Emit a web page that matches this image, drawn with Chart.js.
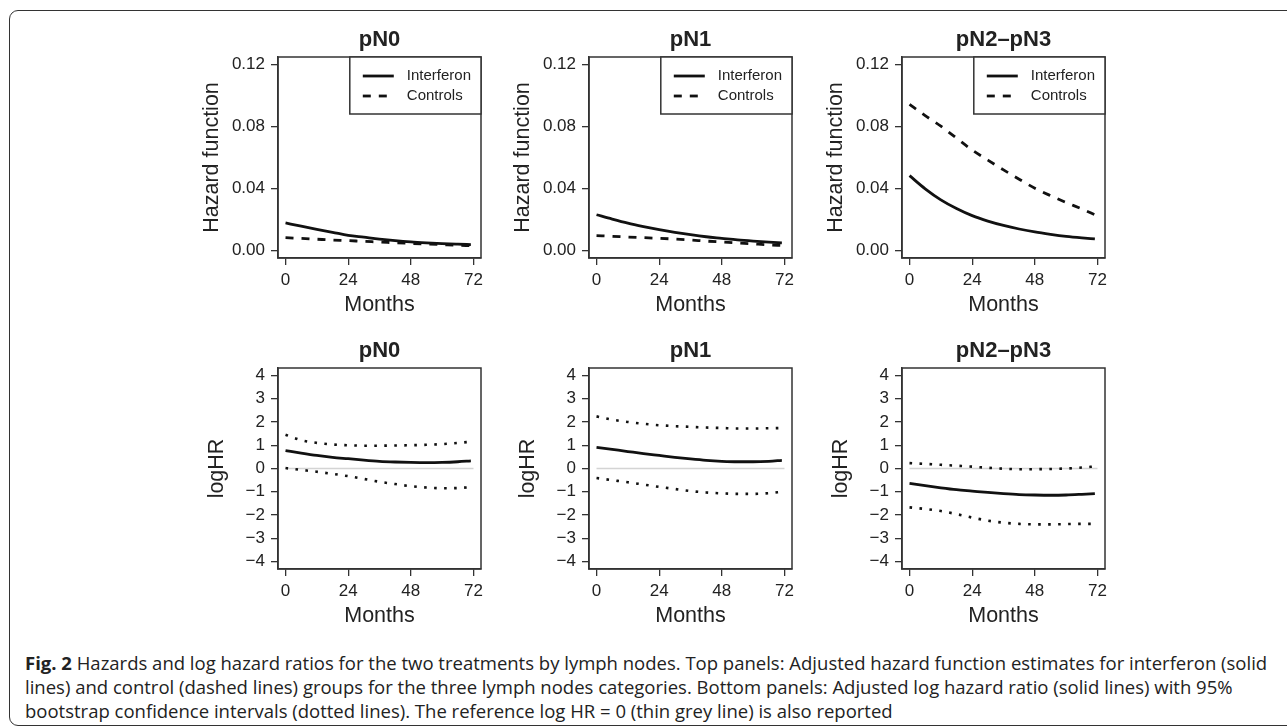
<!DOCTYPE html>
<html>
<head>
<meta charset="utf-8">
<script src="https://cdn.jsdelivr.net/npm/chart.js@4.4.0/dist/chart.umd.min.js"></script>
<style>
  body { margin: 0; background: #fff; width: 1287px; height: 727px; overflow: hidden; position: relative; }
  .frame { position: absolute; left: 9px; top: 10px; width: 1300px; height: 714px;
           border: 1.5px solid #333; border-radius: 9px 0 0 9px; }
  canvas { position: absolute; }
  .caption { position: absolute; left: 25px; top: 651px; font-family: "Open Sans", sans-serif;
             font-size: 18.5px; line-height: 24px; color: #222; white-space: nowrap; }
</style>
</head>
<body>
<div class="frame"></div>
<canvas id="c0" width="308" height="311" style="left:188px;top:7px"></canvas>
<canvas id="c1" width="308" height="311" style="left:499px;top:7px"></canvas>
<canvas id="c2" width="308" height="311" style="left:812px;top:7px"></canvas>
<canvas id="c3" width="308" height="311" style="left:188px;top:318px"></canvas>
<canvas id="c4" width="308" height="311" style="left:499px;top:318px"></canvas>
<canvas id="c5" width="308" height="311" style="left:812px;top:318px"></canvas>
<div class="caption">
<b>Fig. 2</b> Hazards and log hazard ratios for the two treatments by lymph nodes. Top panels: Adjusted hazard function estimates for interferon (solid<br>
lines) and control (dashed lines) groups for the three lymph nodes categories. Bottom panels: Adjusted log hazard ratio (solid lines) with 95%<br>
bootstrap confidence intervals (dotted lines). The reference log HR = 0 (thin grey line) is also reported
</div>
<script>
// months where the curves are read
const months = [0, 6, 12, 18, 24, 30, 36, 42, 48, 54, 60, 66, 71];
const panelTitles = ['pN0', 'pN1', 'pN2\u2013pN3'];
const xTicks = [0, 24, 48, 72];
const hazardTicks = [0, 0.04, 0.08, 0.12];
const logTicks = [-4, -3, -2, -1, 0, 1, 2, 3, 4];

// hazard function, interferon
const hazIfnN0 = [0.0178, 0.0157, 0.0137, 0.0118, 0.0098, 0.0086, 0.0074, 0.0064, 0.0056, 0.0050, 0.0045, 0.0041, 0.0038];
const hazIfnN1 = [0.0231, 0.0203, 0.0177, 0.0155, 0.0135, 0.0117, 0.0102, 0.0089, 0.0079, 0.0069, 0.0061, 0.0054, 0.0049];
const hazIfnN2 = [0.0483, 0.0398, 0.0327, 0.0271, 0.0225, 0.0190, 0.0162, 0.0139, 0.0120, 0.0105, 0.0092, 0.0082, 0.0075];
// hazard function, controls
const hazCtlN0 = [0.0083, 0.0078, 0.0073, 0.0068, 0.0064, 0.0059, 0.0055, 0.0050, 0.0046, 0.0042, 0.0038, 0.0034, 0.0031];
const hazCtlN1 = [0.0096, 0.0092, 0.0087, 0.0083, 0.0079, 0.0074, 0.0068, 0.0061, 0.0055, 0.0049, 0.0043, 0.0037, 0.0033];
const hazCtlN2 = [0.0943, 0.0870, 0.0802, 0.0725, 0.0648, 0.0583, 0.0520, 0.0460, 0.0402, 0.0354, 0.0310, 0.0268, 0.0231];

// log hazard ratio with 95% bootstrap limits
const logN0 = [0.77, 0.66, 0.56, 0.48, 0.42, 0.36, 0.31, 0.28, 0.26, 0.25, 0.26, 0.29, 0.33];
const upN0 = [1.45, 1.22, 1.10, 1.03, 1.00, 0.98, 0.98, 0.99, 1.00, 1.02, 1.05, 1.10, 1.15];
const loN0 = [0.02, -0.06, -0.14, -0.23, -0.33, -0.45, -0.57, -0.67, -0.76, -0.82, -0.85, -0.84, -0.80];
const logN1 = [0.91, 0.82, 0.73, 0.64, 0.56, 0.48, 0.41, 0.35, 0.31, 0.29, 0.29, 0.31, 0.35];
const upN1 = [2.24, 2.10, 2.00, 1.92, 1.86, 1.82, 1.79, 1.76, 1.74, 1.72, 1.72, 1.73, 1.74];
const loN1 = [-0.41, -0.50, -0.59, -0.69, -0.79, -0.88, -0.97, -1.03, -1.07, -1.09, -1.09, -1.06, -1.00];
const logN2 = [-0.64, -0.74, -0.83, -0.91, -0.97, -1.03, -1.08, -1.12, -1.14, -1.15, -1.14, -1.11, -1.08];
const upN2 = [0.23, 0.20, 0.16, 0.12, 0.08, 0.03, -0.01, -0.03, -0.03, -0.02, 0.00, 0.04, 0.09];
const loN2 = [-1.67, -1.74, -1.83, -1.96, -2.11, -2.24, -2.33, -2.38, -2.40, -2.40, -2.39, -2.38, -2.38];

const refX = [0, 72];
const refY = [0, 0];

const FONT = '"Liberation Sans", Arial, sans-serif';
const pts = (xs, ys) => xs.map((x, i) => ({ x: x, y: ys[i] }));

// frame box, panel title and the R-style legend inside the plot
const panelFrame = {
    id: 'panelFrame',
    afterDraw(chart, args, opts) {
        const { ctx, chartArea: a } = chart;
        ctx.save();
        ctx.strokeStyle = '#333';
        ctx.lineWidth = 1.5;
        ctx.strokeRect(a.left, a.top, a.right - a.left, a.bottom - a.top);

        ctx.fillStyle = '#222';
        ctx.font = 'bold 22px ' + FONT;
        ctx.textAlign = 'center';
        ctx.textBaseline = 'middle';
        ctx.fillText(opts.title, (a.left + a.right) / 2, a.top - 17);

        if (opts.legend) {
            const items = chart.data.datasets.filter(d => d.inLegend);
            ctx.font = '15px ' + FONT;
            const tw = Math.max(...items.map(d => ctx.measureText(d.label).width));
            const bw = 57 + tw + 10;
            const bx = a.right - bw;
            ctx.fillStyle = '#fff';
            ctx.fillRect(bx, a.top, bw, 57);
            ctx.strokeRect(bx, a.top, bw, 57);
            items.forEach((d, i) => {
                const y = a.top + 19 + i * 20;
                ctx.beginPath();
                ctx.setLineDash(d.borderDash || []);
                ctx.lineWidth = d.borderWidth;
                ctx.strokeStyle = d.borderColor;
                ctx.moveTo(bx + 13, y);
                ctx.lineTo(bx + 44, y);
                ctx.stroke();
                ctx.setLineDash([]);
                ctx.fillStyle = '#222';
                ctx.textAlign = 'left';
                ctx.fillText(d.label, bx + 57, y);
            });
        }
        ctx.restore();
    }
};

function makePanel(id, title, datasets, yMin, yMax, yTicks, yLabel, yTitlePad, legend) {
    new Chart(document.getElementById(id), {
        type: 'line',
        data: { datasets: datasets },
        options: {
            responsive: false,
            animation: false,
            layout: { padding: { left: 0, top: 50, right: 15, bottom: 0 } },
            elements: { point: { radius: 0 }, line: { cubicInterpolationMode: 'monotone' } },
            plugins: {
                legend: { display: false },
                tooltip: { enabled: false },
                panelFrame: { title: title, legend: legend }
            },
            scales: {
                x: {
                    type: 'linear',
                    min: -2.88,
                    max: 74.88,
                    afterBuildTicks: s => { s.ticks = xTicks.map(v => ({ value: v })); },
                    afterFit: s => { s.height = 60; },
                    grid: { drawOnChartArea: false, drawTicks: true, tickLength: 7, color: '#333', lineWidth: 1.3 },
                    border: { display: true, color: '#333', width: 1.5 },
                    ticks: { font: { size: 17, family: FONT }, color: '#222', padding: 5, maxRotation: 0 },
                    title: { display: true, text: 'Months', font: { size: 21.5, family: FONT }, color: '#222', padding: 0 }
                },
                y: {
                    type: 'linear',
                    min: yMin,
                    max: yMax,
                    afterBuildTicks: s => { s.ticks = yTicks.map(v => ({ value: v })); },
                    afterFit: s => { s.width = 90; },
                    grid: { drawOnChartArea: false, drawTicks: true, tickLength: 7, color: '#333', lineWidth: 1.3 },
                    border: { display: true, color: '#333', width: 1.5 },
                    ticks: {
                        font: { size: 17, family: FONT }, color: '#222', padding: 6,
                        callback: v => yTicks === hazardTicks ? v.toFixed(2) : (v < 0 ? '\u2212' + Math.abs(v) : String(v))
                    },
                    title: { display: true, text: yLabel, font: { size: 21.5, family: FONT }, color: '#222', padding: { top: yTitlePad, bottom: 0 } }
                }
            }
        },
        plugins: [panelFrame]
    });
}

function hazardSets(ifn, ctl) {
    return [
        { label: 'Interferon', inLegend: true, data: pts(months, ifn), borderColor: '#111', borderWidth: 2.8, fill: false },
        { label: 'Controls', inLegend: true, data: pts(months, ctl), borderColor: '#111', borderWidth: 2.8, borderDash: [8, 8], fill: false }
    ];
}

function logSets(est, up, lo) {
    return [
        { label: 'logHR', data: pts(months, est), borderColor: '#111', borderWidth: 2.8, fill: false, order: 1 },
        { label: 'upper', data: pts(months, up), borderColor: '#111', borderWidth: 2.6, borderDash: [2.6, 7.4], fill: false, order: 2 },
        { label: 'lower', data: pts(months, lo), borderColor: '#111', borderWidth: 2.6, borderDash: [2.6, 7.4], fill: false, order: 2 },
        { label: 'ref', data: pts(refX, refY), borderColor: '#d4d4d4', borderWidth: 1.5, fill: false, order: 10 }
    ];
}

makePanel('c0', panelTitles[0], hazardSets(hazIfnN0, hazCtlN0), -0.0048, 0.1248, hazardTicks, 'Hazard function', 11, true);
makePanel('c1', panelTitles[1], hazardSets(hazIfnN1, hazCtlN1), -0.0048, 0.1248, hazardTicks, 'Hazard function', 11, true);
makePanel('c2', panelTitles[2], hazardSets(hazIfnN2, hazCtlN2), -0.0048, 0.1248, hazardTicks, 'Hazard function', 11, true);
makePanel('c3', panelTitles[0], logSets(logN0, upN0, loN0), -4.32, 4.32, logTicks, 'logHR', 16, false);
makePanel('c4', panelTitles[1], logSets(logN1, upN1, loN1), -4.32, 4.32, logTicks, 'logHR', 16, false);
makePanel('c5', panelTitles[2], logSets(logN2, upN2, loN2), -4.32, 4.32, logTicks, 'logHR', 16, false);
</script>
</body>
</html>
